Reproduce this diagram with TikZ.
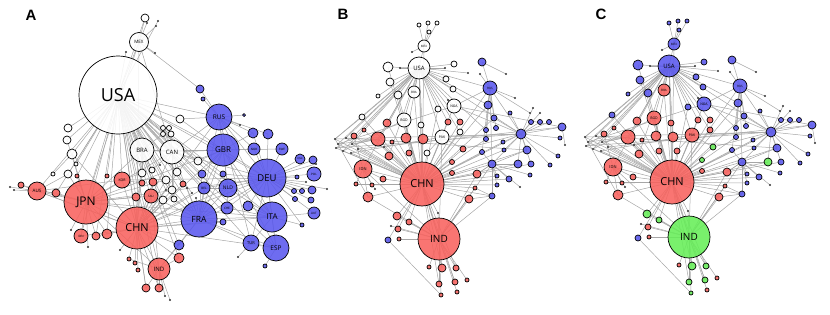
\documentclass[tikz,border=0pt]{standalone}
\usepackage{fontspec}
\setmainfont{Liberation Sans}
\newfontfamily\netfont{Open Sans}
\usetikzlibrary{backgrounds}
\definecolor{netred}{HTML}{F8625E}
\definecolor{netblue}{HTML}{5A58EE}
\definecolor{netgreen}{HTML}{66EE58}
\definecolor{linkgray}{HTML}{A6A6A6}
\newcommand\lblsize[1]{\fontsize{#1}{#1}\selectfont}
\tikzset{
  netnode/.style={circle, draw=black, line width=.7pt, inner sep=0pt,
    fill opacity=.88, text opacity=1, font=\netfont},
  wnode/.style={netnode, fill=white},
  rnode/.style={netnode, fill=netred},
  bnode/.style={netnode, fill=netblue},
  gnode/.style={netnode, fill=netgreen},
  smalldot/.style={circle, fill=black!80, inner sep=0pt, minimum size=2.4pt},
  link/.style={draw=linkgray, line width=.5pt},
  panel/.style={font=\bfseries\lblsize{15}},
}

% panels B and C share one layout, only the colours change
\newcommand\tradenet[1]{%
  \node[cus, minimum size=22pt, font=\netfont\lblsize{6}] (#1USA) at (419,68) {USA};
  \node[cus, minimum size=12pt, font=\netfont\lblsize{3}] (#1MEX) at (424,46) {MEX};
  \node[csa, minimum size=12pt, font=\netfont\lblsize{3}] (#1BRA) at (414,92) {BRA};
  \node[csa, minimum size=14pt, font=\netfont\lblsize{3.5}] (#1BGD) at (404,120) {BGD};
  \node[cus, minimum size=14pt, font=\netfont\lblsize{3.5}] (#1NGA) at (454,106) {NGA};
  \node[csa, minimum size=14pt, font=\netfont\lblsize{3.5}] (#1PAK) at (442,137) {PAK};
  \node[rnode, minimum size=44pt, font=\netfont\lblsize{11}] (#1CHN) at (422,184) {CHN};
  \node[cin, minimum size=42pt, font=\netfont\lblsize{10}] (#1IND) at (439,239) {IND};
  \node[rnode, minimum size=18pt, font=\netfont\lblsize{4}] (#1IDN) at (363,169) {IDN};
  \node[bnode, minimum size=14pt, font=\netfont\lblsize{3}] (#1RUS) at (490,88) {RUS};
  % small nodes
  \foreach \n/\x/\y/\r in {w1/419/25/2, w2/428/23/2, w3/437/23/2, w4/429/32/2, w5/388/67/5,
      w6/390/82/4, w7/398/95/4, w8/454/64/3, w9/446/79/3, w10/453/89/3, w11/438/109/3,
      w14/362/117/3, w15/378/96/2}
    \node[cus, minimum size=\r*2pt] (#1\n) at (\x,\y) {};
  \foreach \n/\x/\y/\r in {w12/421/125/3, w13/427/153/3, w16/460/132/3}
    \node[csa, minimum size=\r*2pt] (#1\n) at (\x,\y) {};
  \foreach \n/\x/\y/\r in {r1/368/197/5, r2/378/139/7, r3/389/156/4, r4/387/123/4, r5/406/138/5,
      r6/423/139/5, r7/409/153/3, r8/354/136/3, r9/383/179/3, r11/398/229/3, r13/399/239/2,
      r14/477/174/4, r15/469/199/4, r17/452/173/2.5, r19/448/122/3, r20/460/122/3,
      r25/467/280/2, r27/457/292/2, r28/429/267/2, r29/356/184/2, r30/372/185/2,
      r31/475/188/2, r32/364/130/2, r33/392/142/2}
    \node[rnode, minimum size=\r*2pt] (#1\n) at (\x,\y) {};
  \foreach \n/\x/\y/\r in {r10/397/216/4, r12/409/222/3, r16/463/149/3, r18/452/162/2.5,
      r21/442/268/4, r22/456/268/3, r23/439/284/3, r24/455/282/3, r26/441/295/2}
    \node[cin, minimum size=\r*2pt] (#1\n) at (\x,\y) {};
  \foreach \n/\x/\y/\r in {b1/388/240/3, b2/482/62/4, b3/488/105/4, b4/494/118/3, b5/521/134/5,
      b6/527/150/4, b8/492/164/4, b9/531/164/3, b10/562/127/4, b11/509/179/3, b12/492/196/3,
      b13/486/139/2.5, b14/486/130/2.5, b15/496/128/2.5, b16/482/152/2.5, b17/504/150/2,
      b18/503/142/2, b19/549/122/2.5, b20/540/122/2.5, b21/531/122/2.5, b22/560/138/2,
      b23/558/156/2, b24/550/165/2, b25/530/175/2, b26/497/176/2, b27/497/185/2, b28/510/113/2}
    \node[bnode, minimum size=\r*2pt] (#1\n) at (\x,\y) {};
  \node[cbg, minimum size=8pt] (#1b7) at (518,164) {};
  \foreach \n/\x/\y in {d1/335/139, d2/338/144, d3/336/148, d4/343/151, d5/351/153, d6/346/138,
      d7/358/149, d8/352/144, d9/412/52, d10/400/68, d11/445/68, d12/468/73, d13/448/100,
      d14/480/74, d15/506/74, d16/515/98, d17/533/108, d18/530/113, d19/384/147, d20/375/189,
      d21/391/226, d22/438/213, d23/540/113, d24/565/145, d25/520/187}
    \node[smalldot] (#1\n) at (\x,\y) {};
  % links
  \begin{scope}[on background layer]
    \foreach \a/\b in {USA/MEX, USA/w5, USA/w6, USA/w7, USA/BRA, USA/BGD, USA/NGA, USA/PAK,
        USA/w8, USA/w9, USA/w10, USA/w11, USA/w14, USA/w15, USA/r2, USA/r4, USA/RUS, USA/b5,
        USA/IDN, USA/r8, USA/CHN, USA/w12, USA/r6, USA/d1, USA/d6, USA/d10, USA/d11, USA/d12,
        USA/r5, USA/r3, USA/r19, USA/r20, USA/w16, USA/b3, USA/b14, USA/d2, USA/d4, USA/d8,
        MEX/w1, MEX/w2, MEX/w3, MEX/w4, MEX/d9, MEX/CHN,
        CHN/IND, CHN/IDN, CHN/BRA, CHN/BGD, CHN/PAK, CHN/NGA, CHN/RUS, CHN/r1, CHN/r2, CHN/r3,
        CHN/r5, CHN/r6, CHN/r7, CHN/r9, CHN/r10, CHN/r11, CHN/r12, CHN/r14, CHN/r15, CHN/r16,
        CHN/r17, CHN/r18, CHN/r19, CHN/r20, CHN/w12, CHN/w13, CHN/w16, CHN/w7, CHN/w6, CHN/w5,
        CHN/b5, CHN/b7, CHN/b8, CHN/b11, CHN/b12, CHN/b1, CHN/d2, CHN/d4, CHN/d5, CHN/d7,
        CHN/d19, CHN/d22, CHN/r4, CHN/r32, CHN/r33, CHN/b3, CHN/b4, CHN/b6, CHN/b9, CHN/b13,
        CHN/b16, CHN/b17, CHN/b18, CHN/b26, CHN/b27, CHN/r8, CHN/r29, CHN/r30, CHN/r31,
        CHN/w11, CHN/w14, CHN/d1, CHN/d3, CHN/d6, CHN/d8, CHN/r21, CHN/r22, CHN/r23, CHN/r24,
        IND/r21, IND/r22, IND/r23, IND/r24, IND/r25, IND/r28, IND/r10, IND/r11, IND/r12,
        IND/r13, IND/r15, IND/r26, IND/r27, IND/d21, IND/IDN, IND/r1, IND/r14, IND/r31,
        IND/b8, IND/b12, IND/PAK, IND/BGD, IND/d22,
        RUS/b2, RUS/b3, RUS/b4, RUS/b5, RUS/b13, RUS/b14, RUS/b15, RUS/NGA, RUS/d14, RUS/d16,
        RUS/d18, RUS/b8, RUS/b16,
        b5/b6, b5/b7, b5/b8, b5/b9, b5/b10, b5/b19, b5/b20, b5/b21, b5/b22, b5/b23, b5/b24,
        b5/b17, b5/b18, b5/b4, b5/b28, b5/d17, b5/d23, b5/d1, b5/d3, b5/NGA, b5/r16, b5/PAK,
        b8/b11, b8/b12, b8/b16, b8/b26, b8/b27, b8/b25, b8/b7, b8/d25, b8/b6, b8/r14,
        b1/r26, IDN/r1, IDN/r29, IDN/r30, IDN/r9, IDN/r8, PAK/w13, PAK/r16, NGA/d13, b2/d15,
        b10/d24, r2/d8, r2/d2, IDN/d20, r31/b12, r14/b8, r15/b12, NGA/b10, NGA/d2,
        PAK/d5, BGD/d4, r2/d3, r1/d1, b10/d7, b6/d6, w14/d1, r8/d3}
      \draw[link] (#1\a.center) -- (#1\b.center);
  \end{scope}
}

\begin{document}
\begin{tikzpicture}[x=1pt,y=-1pt]
\useasboundingbox (0,0) rectangle (830,314);

% ----- panel A -----
\node[panel] (labA) at (31,15) {A};

\node[wnode, minimum size=78pt, font=\netfont\lblsize{18}] (USA) at (118,95) {USA};
\node[wnode, minimum size=19pt, font=\netfont\lblsize{4.5}] (MEX) at (139,42) {MEX};
\node[wnode, minimum size=24pt, font=\netfont\lblsize{6}] (BRA) at (142,150) {BRA};
\node[wnode, minimum size=24pt, font=\netfont\lblsize{6}] (CAN) at (172,152) {CAN};

\node[rnode, minimum size=44pt, font=\netfont\lblsize{12}] (JPN) at (86,202) {JPN};
\node[rnode, minimum size=42pt, font=\netfont\lblsize{11}] (CHN) at (137,228) {CHN};
\node[rnode, minimum size=16pt, font=\netfont\lblsize{3.5}] (KOR) at (122,180) {KOR};
\node[rnode, minimum size=18pt, font=\netfont\lblsize{4.5}] (AUS) at (37,191) {AUS};
\node[rnode, minimum size=22pt, font=\netfont\lblsize{6}] (IND) at (159,269) {IND};
\node[rnode, minimum size=14pt, font=\netfont\lblsize{3}] (IDN) at (81,236) {IDN};
\node[rnode, minimum size=14pt, font=\netfont\lblsize{3}] (SAU) at (151,196) {SAU};

\node[bnode, minimum size=26pt, font=\netfont\lblsize{6.5}] (RUS) at (219,117) {RUS};
\node[bnode, minimum size=32pt, font=\netfont\lblsize{8}] (GBR) at (223,150) {GBR};
\node[bnode, minimum size=38pt, font=\netfont\lblsize{9.5}] (DEU) at (267,178) {DEU};
\node[bnode, minimum size=30pt, font=\netfont\lblsize{8}] (ITA) at (272,217) {ITA};
\node[bnode, minimum size=26pt, font=\netfont\lblsize{6.5}] (ESP) at (276,248) {ESP};
\node[bnode, minimum size=16pt, font=\netfont\lblsize{4}] (TUR) at (251,243) {TUR};
\node[bnode, minimum size=36pt, font=\netfont\lblsize{8.5}] (FRA) at (199,219) {FRA};
\node[bnode, minimum size=18pt, font=\netfont\lblsize{5}] (NLD) at (228,188) {NLD};
\node[bnode, minimum size=12pt, font=\netfont\lblsize{3}] (BEL) at (204,188) {BEL};
\node[bnode, minimum size=12pt, font=\netfont\lblsize{3}] (CHE) at (227,208) {CHE};
\node[bnode, minimum size=12pt, font=\netfont\lblsize{3}] (NOR) at (254,149) {NOR};
\node[bnode, minimum size=12pt, font=\netfont\lblsize{3}] (SWE) at (282,149) {SWE};
\node[bnode, minimum size=10pt, font=\netfont\lblsize{2.5}] (DNK) at (300,159) {DNK};
\node[bnode, minimum size=14pt, font=\netfont\lblsize{3}] (POL) at (314,174) {POL};
\node[bnode, minimum size=12pt, font=\netfont\lblsize{3}] (AUT) at (314,213) {AUT};

\foreach \n/\x/\y/\r in {aw1/145/18/4, aw2/68/128/4, aw3/67/140/4, aw4/72/154/5, aw5/68/174/4,
    aw6/53/174/2, aw7/180/119/4, aw8/163/128/2.5, aw9/169/128/2.5, aw10/163/134/2.5,
    aw11/171/134/3, aw12/142/173/4, aw13/152/170/3, aw14/166/180/4, aw15/177/172/4,
    aw16/198/161/4, aw17/172/190/4, aw18/163/200/4, aw19/174/199/3, aw20/76/164/2}
  \node[wnode, minimum size=\r*2pt] (\n) at (\x,\y) {};
\foreach \n/\x/\y/\r in {ar1/21/185/3, ar2/56/193/4, ar3/96/236/4, ar4/107/234/5, ar5/136/197/4,
    ar6/142/183/3, ar7/153/182/4, ar8/183/184/3, ar9/179/258/5, ar10/146/288/4, ar11/159/288/4,
    ar12/129/259/2, ar13/77/176/2, ar14/107/176/2, ar15/135/263/2, ar16/138/270/2}
  \node[rnode, minimum size=\r*2pt] (\n) at (\x,\y) {};
\foreach \n/\x/\y/\r in {ab1/200/89/4, ab2/203/99/2, ab3/253/133/5, ab4/268/134/5, ab5/313/160/4,
    ab6/312/190/4, ab7/311/200/3, ab8/302/225/2, ab9/297/177/2, ab10/294/191/2.5,
    ab11/302/191/2.5, ab12/295/199/2.5, ab13/248/206/5, ab14/223/222/3, ab15/202/174/4,
    ab16/223/174/3, ab17/179/245/5, ab18/265/266/2, ab19/244/115/1.5}
  \node[bnode, minimum size=\r*2pt] (\n) at (\x,\y) {};
\foreach \n/\x/\y in {ad1/147/23, ad2/156/26, ad3/158/21, ad4/126/52, ad5/155/53, ad6/240/125,
    ad7/238/257, ad8/327/189, ad9/88/247, ad10/120/250, ad11/165/296, ad12/170/300,
    ad13/10/187, ad14/14/190, ad15/187/188, ad16/192/193, ad17/196/198, ad18/160/165,
    ad19/166/190, ad20/306/182, ad21/316/164, ad22/71/230}
  \node[smalldot] (\n) at (\x,\y) {};

\begin{scope}[on background layer]
  \foreach \a/\b in {USA/MEX, USA/aw1, USA/JPN, USA/CHN, USA/KOR, USA/AUS, USA/BRA, USA/CAN,
      USA/GBR, USA/DEU, USA/FRA, USA/IND, USA/RUS, USA/ITA, USA/NLD, USA/aw2, USA/aw3, USA/aw4,
      USA/aw5, USA/aw12, USA/aw14, USA/aw16, USA/aw7, USA/SAU, USA/ar5, USA/ar7, USA/ar2,
      USA/IDN, USA/ar4, USA/ab15, USA/aw17, USA/aw18, USA/ar14, USA/aw20, USA/ar6, USA/ar8,
      USA/aw13, MEX/aw1, MEX/CHN, MEX/CAN, MEX/ad1, MEX/ad2, MEX/ad5, USA/ad3, USA/ad4,
      USA/ad18, USA/ar3, USA/ar9, USA/ar10, USA/ar11, USA/ab17, USA/ESP, USA/TUR, USA/BEL,
      USA/CHE, USA/aw15, USA/aw19, USA/ar13, USA/ab16, USA/ad16, USA/ad19, MEX/JPN, MEX/ab1,
      JPN/CHN, JPN/AUS, JPN/KOR, JPN/IDN, JPN/ar2, JPN/ar3, JPN/ar4, JPN/ar1, JPN/BRA, JPN/CAN,
      JPN/SAU, JPN/DEU, JPN/FRA, JPN/aw4, JPN/aw5, JPN/ar13, JPN/ad9, JPN/ad22, JPN/GBR,
      JPN/ITA, JPN/IND, JPN/aw14, JPN/ar5, JPN/aw3,
      CHN/KOR, CHN/IND, CHN/SAU, CHN/FRA, CHN/DEU, CHN/GBR, CHN/IDN, CHN/ar3, CHN/ar4, CHN/ar5,
      CHN/ar9, CHN/ab17, CHN/ar10, CHN/ar11, CHN/CAN, CHN/BRA, CHN/aw12, CHN/aw18, CHN/NLD,
      CHN/ITA, CHN/AUS, CHN/RUS, CHN/ar12, CHN/ad10, CHN/ad16, CHN/ad19, CHN/ar15, CHN/ar16,
      CHN/ESP, CHN/BEL, CHN/aw17, CHN/aw14, CHN/ar7, CHN/ar8, CHN/ab14, CHN/aw4,
      IND/ar10, IND/ar11, IND/ar9, IND/ab17, IND/ad11, IND/ad12, IND/SAU, IND/FRA, IND/ar12,
      DEU/FRA, DEU/GBR, DEU/ITA, DEU/ESP, DEU/NLD, DEU/RUS, DEU/CHE, DEU/AUT, DEU/POL, DEU/SWE,
      DEU/NOR, DEU/DNK, DEU/TUR, DEU/ab5, DEU/ab6, DEU/ab7, DEU/ab9, DEU/ab10, DEU/ab11,
      DEU/ab12, DEU/ab13, DEU/BEL, DEU/ab4, DEU/ab3, DEU/ad8, DEU/ad20, DEU/ad21, DEU/CAN,
      DEU/ab16, DEU/ab8, DEU/KOR,
      FRA/GBR, FRA/ITA, FRA/ESP, FRA/BEL, FRA/CHE, FRA/NLD, FRA/TUR, FRA/ab14, FRA/ab15,
      FRA/ab16, FRA/CAN, FRA/ad15, FRA/ad17, FRA/aw19, FRA/aw17, FRA/RUS, FRA/ab17, FRA/SAU,
      GBR/NLD, GBR/RUS, GBR/ITA, GBR/ESP, GBR/BEL, GBR/NOR, GBR/ab3, GBR/CAN, GBR/aw16,
      GBR/aw7, GBR/SWE, GBR/ab15, GBR/BRA,
      RUS/ab1, RUS/ab2, RUS/ab19, RUS/NOR, RUS/ab3, RUS/ab4, RUS/aw7, RUS/ad6, RUS/NLD,
      RUS/ITA, RUS/TUR, RUS/CAN,
      ITA/ESP, ITA/TUR, ITA/AUT, ITA/ab8, ITA/CHE, ESP/ab18, ESP/TUR, TUR/ad7, ITA/ab13,
      NLD/BEL, NLD/ab16, NLD/CHE, ITA/NLD,
      CAN/aw8, CAN/aw9, CAN/aw10, CAN/aw11, CAN/aw15, CAN/aw16, CAN/aw13, CAN/BRA, CAN/aw17,
      CAN/aw19, BRA/aw12, BRA/aw13, BRA/aw10, AUS/ar1, AUS/ar2, AUS/ad13, AUS/ad14, aw4/aw6,
      KOR/ar6, SAU/ar7, AUS/CHN, AUS/aw5, AUS/KOR, KOR/aw12}
    \draw[link] (\a.center) -- (\b.center);
\end{scope}

% ----- panel B -----
\node[panel] (labB) at (343,14) {B};
\begin{scope}[cus/.style=wnode, csa/.style=wnode, cin/.style=rnode, cbg/.style=bnode]
  \tradenet{B}
\end{scope}

% ----- panel C -----
\node[panel] (labC) at (601,14) {C};
\begin{scope}[shift={(250,-2)}, cus/.style=bnode, csa/.style=rnode, cin/.style=gnode, cbg/.style=gnode]
  \tradenet{C}
\end{scope}

\end{tikzpicture}
\end{document}
